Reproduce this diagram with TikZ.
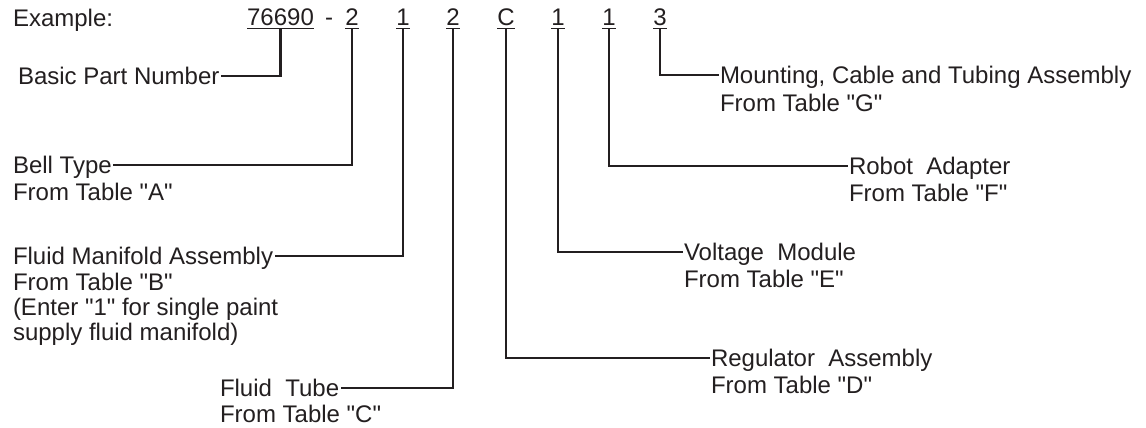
\documentclass[tikz,border=0pt]{standalone}
\usepackage{fontspec}
\setmainfont{Liberation Sans}[Ligatures=TeXOff]
\definecolor{ink}{RGB}{35,31,32}
\begin{document}
\begin{tikzpicture}[x=1pt,y=-1pt,
  every node/.style={inner sep=0pt, outer sep=0pt, text=ink,
    font=\fontsize{24}{26}\selectfont},
  lbl/.style={anchor=base west},
  digit/.style={anchor=base},
  uline/.style={draw=ink, line width=1pt},
  conn/.style={draw=ink, line width=2.8pt, line cap=butt, line join=miter}]
\useasboundingbox (0,0) rectangle (1146,428);
\fill[white] (0,0) rectangle (1146,428);

% example line
\node[lbl] (ex) at (13,27) {Example:};
\node[digit] (d0) at (280.5,26) {76690};
\node[digit] (dash) at (329,26) {-};
\node[digit] (d1) at (352,26) {2};
\node[digit] (d2) at (403,26) {1};
\node[digit] (d3) at (453,26) {2};
\node[digit] (d4) at (506,26) {C};
\node[digit] (d5) at (558,26) {1};
\node[digit] (d6) at (609,26) {1};
\node[digit] (d7) at (660,26) {3};
\foreach \d in {d0,d1,d2,d3,d4,d5,d6,d7}{
  \draw[uline] ([yshift=-2.5pt]\d.base west) -- ([yshift=-2.5pt]\d.base east);
  \coordinate (\d u) at ([yshift=-2.5pt]\d.base);
}

% left labels
\node[lbl] (bpn) at (18,84.6) {Basic Part Number};

\node[lbl] (bell) at (13,173.6) {Bell Type};
\node[lbl] (bellb) at (13,200) {From Table "A"};

\node[lbl] (fma) at (13,264.6) {Fluid Manifold Assembly};
\node[lbl] (fmab) at (13,290) {From Table "B"};
\node[lbl] (fmac) at (13,315) {(Enter "1" for single paint};
\node[lbl] (fmad) at (13,340) {supply fluid manifold)};

\node[lbl] (ft) at (220,396.6) {Fluid\ \ Tube};
\node[lbl] (ftb) at (220,422) {From Table "C"};

% right labels
\node[lbl] (mnt) at (720,83.6) {Mounting, Cable and Tubing Assembly};
\node[lbl] (mntb) at (720,111) {From Table "G"};

\node[lbl] (rob) at (849,174.6) {Robot\ \ Adapter};
\node[lbl] (robb) at (849,201) {From Table "F"};

\node[lbl] (vol) at (684,260.6) {Voltage\ \ Module};
\node[lbl] (volb) at (684,287) {From Table "E"};

\node[lbl] (reg) at (711,366.6) {Regulator\ \ Assembly};
\node[lbl] (regb) at (711,393) {From Table "D"};

% connectors
\draw[conn] (d0u) |- ([xshift=1.5pt,yshift=8.6pt]bpn.base east);
\draw[conn] (d1u) |- ([xshift=1.5pt,yshift=8.6pt]bell.base east);
\draw[conn] (d2u) |- ([xshift=1.5pt,yshift=8.6pt]fma.base east);
\draw[conn] (d3u) |- ([xshift=1.5pt,yshift=8.6pt]ft.base east);
\draw[conn] (d4u) |- ([xshift=-1.5pt,yshift=8.6pt]reg.base west);
\draw[conn] (d5u) |- ([xshift=-1.5pt,yshift=8.6pt]vol.base west);
\draw[conn] (d6u) |- ([xshift=-1.5pt,yshift=8.6pt]rob.base west);
\draw[conn] (d7u) |- ([xshift=-1.5pt,yshift=8.6pt]mnt.base west);
\end{tikzpicture}
\end{document}
